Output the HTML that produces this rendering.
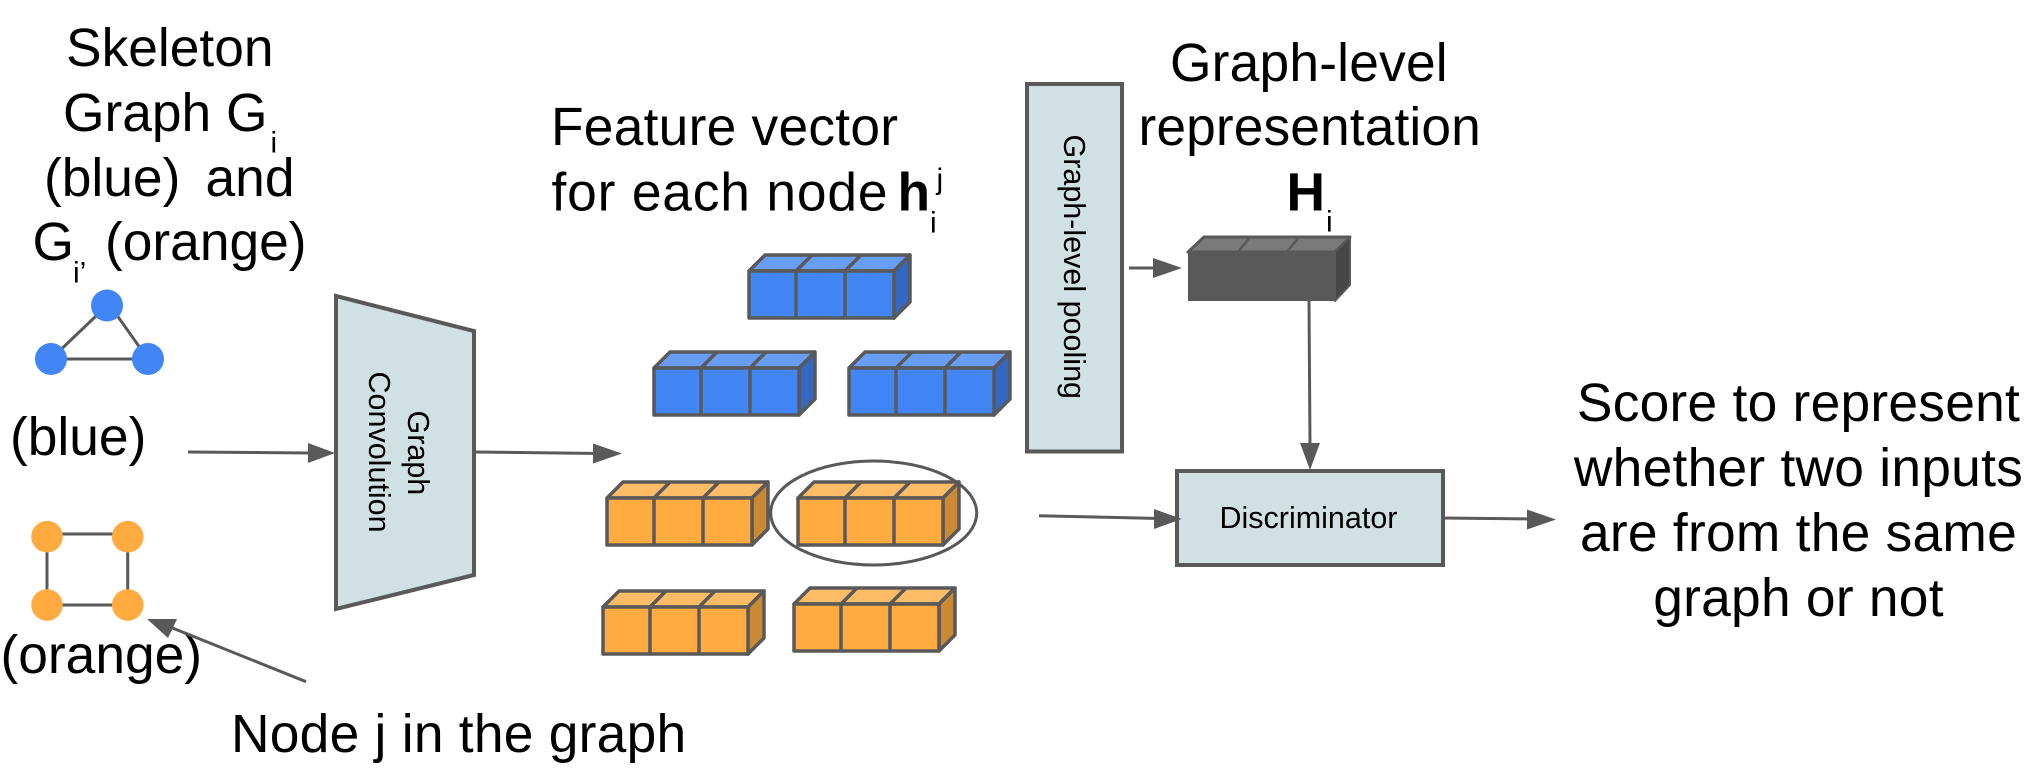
<!DOCTYPE html>
<html>
<head>
<meta charset="utf-8">
<style>
html,body{margin:0;padding:0;background:#fff;width:2033px;height:777px;overflow:hidden}
svg{display:block}
text{font-family:"Liberation Sans",sans-serif;fill:#000}
.L{font-size:53.33px}
.S{font-size:30px}
.M{font-size:30.5px}
.B{font-weight:bold}
.ln{stroke:#595959;stroke-width:3;fill:none}
.ar{fill:#595959;stroke:none}
.box{fill:#d0e0e3;stroke:#595959;stroke-width:4}
.blue{--f:#4285f4;--t:#689df6;--s:#3468c3}
.org{--f:#ffab40;--t:#ffbc66;--s:#cc8933}
</style>
</head>
<body>
<svg width="2033" height="777" viewBox="0 0 2033 777" xmlns="http://www.w3.org/2000/svg">
<defs>
<g id="cube" stroke="#595959" stroke-width="3.5" stroke-linejoin="round">
  <polygon style="fill:var(--t)" points="0,0 16,-16 161,-16 145,0"/>
  <polygon style="fill:var(--s)" points="145,0 161,-16 161,31 145,47"/>
  <polygon style="fill:var(--f)" points="0,0 145,0 145,47 0,47"/>
  <line x1="47" y1="0" x2="47" y2="47"/>
  <line x1="96" y1="0" x2="96" y2="47"/>
  <line x1="47" y1="0" x2="63" y2="-16"/>
  <line x1="96" y1="0" x2="112" y2="-16"/>
</g>
</defs>

<!-- left caption -->
<text class="L" x="66" y="66">Skeleton</text>
<text class="L" x="63" y="131">Graph G</text>
<text class="S" x="270.5" y="152.7">i</text>
<text class="L" x="44" y="196">(blue)</text>
<text class="L" x="205.5" y="196">and</text>
<text class="L" x="32.5" y="260">G</text>
<text class="S" x="73" y="282.7">i’</text>
<text class="L" x="105" y="260">(orange)</text>
<text class="L" x="10" y="455">(blue)</text>
<text class="L" x="0.5" y="673">(orange)</text>
<text class="L" x="231" y="752" letter-spacing="0.25">Node j in the graph</text>

<!-- blue graph -->
<g class="ln">
  <line x1="107" y1="305.5" x2="51" y2="359"/>
  <line x1="110" y1="305.5" x2="148" y2="359"/>
  <line x1="51" y1="359" x2="148" y2="359"/>
</g>
<g fill="#4285f4">
  <circle cx="107" cy="305.5" r="16"/>
  <circle cx="51" cy="359" r="16"/>
  <circle cx="148" cy="359" r="16"/>
</g>

<!-- orange graph -->
<g class="ln">
  <line x1="47" y1="534" x2="127.7" y2="534"/>
  <line x1="47" y1="605" x2="127.7" y2="605"/>
  <line x1="47" y1="537" x2="47" y2="605"/>
  <line x1="127.7" y1="537" x2="127.7" y2="605"/>
</g>
<g fill="#ffab40">
  <circle cx="47" cy="536.7" r="15.8"/>
  <circle cx="127.7" cy="536.7" r="15.8"/>
  <circle cx="47" cy="605" r="15.8"/>
  <circle cx="127.7" cy="605" r="15.8"/>
</g>

<!-- arrows left -->
<line class="ln" x1="188" y1="452" x2="312" y2="453"/>
<polygon class="ar" points="335,453 308,443 308,463"/>
<line class="ln" x1="306" y1="681.7" x2="165" y2="625"/>
<polygon class="ar" points="147,619 177,619 168,638"/>

<!-- graph convolution -->
<polygon class="box" points="336,296 474,331 474,575 336,609"/>
<text class="M" transform="translate(408,410.5) rotate(90)">Graph</text>
<text class="M" transform="translate(369,371.5) rotate(90)">Convolution</text>

<line class="ln" x1="475" y1="452" x2="600" y2="453.5"/>
<polygon class="ar" points="622,453.5 593,443.5 593,463.5"/>

<!-- feature vector text -->
<text class="L" x="551" y="145" textLength="347">Feature vector</text>
<text class="L" x="551.5" y="210.7" textLength="336">for each node</text>
<text class="L B" x="897.5" y="210.7">h</text>
<text class="S" x="936.5" y="189">j</text>
<text class="S" x="930" y="232.7">i</text>

<!-- cubes -->
<use href="#cube" class="blue" x="749" y="271"/>
<use href="#cube" class="blue" x="654" y="368"/>
<use href="#cube" class="blue" x="849" y="368"/>
<use href="#cube" class="org" x="607" y="498"/>
<use href="#cube" class="org" x="798" y="498"/>
<use href="#cube" class="org" x="603" y="607"/>
<use href="#cube" class="org" x="794" y="604"/>

<ellipse cx="873.7" cy="513" rx="103" ry="52" fill="none" stroke="#595959" stroke-width="3"/>

<!-- pooling -->
<rect class="box" x="1027" y="84" width="95" height="367.5"/>
<text class="M" transform="translate(1064,134.5) rotate(90)">Graph-level pooling</text>

<!-- graph level text -->
<text class="L" x="1170" y="81" letter-spacing="0.2">Graph-level</text>
<text class="L" x="1138.5" y="145" letter-spacing="0.1">representation</text>
<text class="L B" x="1286.5" y="210.7">H</text>
<text class="S" x="1326" y="231.7">i</text>

<line class="ln" x1="1129" y1="268" x2="1160" y2="268"/>
<polygon class="ar" points="1182,268 1153,258 1153,278"/>

<!-- dark cube -->
<polygon fill="#7a7a7a" stroke="#595959" stroke-width="3" stroke-linejoin="round" points="1188,252 1204,237 1350,237 1335,252"/>
<polygon fill="#474747" stroke="#595959" stroke-width="2" stroke-linejoin="round" points="1335,252 1350,237 1350,285 1335,301"/>
<rect x="1188" y="252" width="147" height="49" fill="#595959"/>
<line x1="1238" y1="252" x2="1250" y2="237" stroke="#595959" stroke-width="2.5"/>
<line x1="1287" y1="252" x2="1299" y2="237" stroke="#595959" stroke-width="2.5"/>

<line class="ln" x1="1309" y1="301" x2="1310" y2="445"/>
<polygon class="ar" points="1310,470 1300,443 1320,443"/>

<!-- discriminator -->
<rect class="box" x="1177" y="471" width="266" height="94"/>
<text class="M" x="1219.5" y="528">Discriminator</text>

<line class="ln" x1="1039" y1="515.7" x2="1160" y2="518.5"/>
<polygon class="ar" points="1181.7,519 1154,509 1154,529"/>
<line class="ln" x1="1443" y1="518" x2="1532" y2="519"/>
<polygon class="ar" points="1556,519.5 1527,509.5 1527,529.5"/>

<!-- score text -->
<g text-anchor="middle" letter-spacing="0.25">
<text class="L" x="1798.5" y="421">Score to represent</text>
<text class="L" x="1798.5" y="486">whether two inputs</text>
<text class="L" x="1798.5" y="551">are from the same</text>
<text class="L" x="1798.5" y="616">graph or not</text>
</g>
</svg>
</body>
</html>
